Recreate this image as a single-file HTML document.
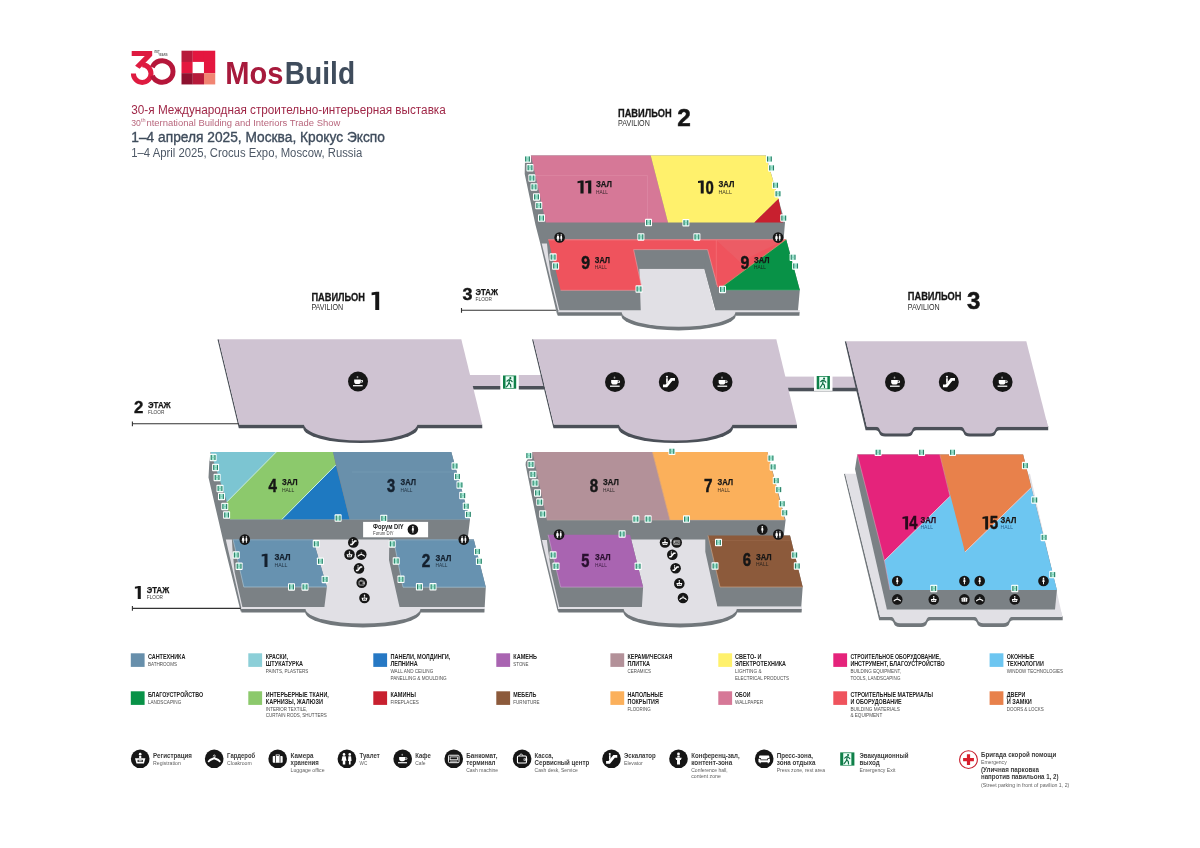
<!DOCTYPE html>
<html><head><meta charset="utf-8"><title>MosBuild 2025 floor plan</title>
<style>
html,body{margin:0;padding:0;background:#fff;}
body{width:1200px;height:848px;overflow:hidden;font-family:"Liberation Sans",sans-serif;}
svg{display:block;font-family:"Liberation Sans",sans-serif;will-change:transform;opacity:0.9999;}
</style></head><body>
<svg width="1200" height="848" viewBox="0 0 1200 848">
<defs>
<g id="ex"><rect x="0" y="0" width="7" height="7.5" rx="0.8" fill="#fff"/><rect x="1" y="1.1" width="5" height="5.3" fill="#a2e4d0"/><rect x="1.1" y="1.3" width="1.1" height="4.9" fill="#2a8068"/><rect x="4.8" y="1.3" width="1.1" height="4.9" fill="#2a8068"/><rect x="2.2" y="3.3" width="2.6" height=".8" fill="#7fd0b8"/></g>


<g id="i-wc"><circle cx="12" cy="12" r="12" fill="#161616"/><g fill="#fff"><circle cx="8.3" cy="6.3" r="1.7"/><path d="M6.2 8.6h4.2l1.1 6h-1.6v4.6H6.7v-4.6H5.1z"/><circle cx="15.7" cy="6.3" r="1.7"/><path d="M14 8.6h3.4l.6 6.2h-1.2v4.4h-2.2v-4.4h-1.2z"/></g></g>
<g id="i-cafe"><circle cx="12" cy="12" r="12" fill="#161616"/><g fill="#fff"><path d="M7.400 9.600h8v2.600c0 1.700-1.400 2.800-3 2.800h-2c-1.600 0-3-1.100-3-2.800z"/><path d="M15.400 10.300h1.100c1 0 1.600.600 1.600 1.400 0 .900-.700 1.500-1.700 1.500h-1v-.900h.900c.500 0 .800-.200.800-.600s-.300-.600-.800-.600h-.900z"/><rect x="6" y="16.300" width="11.600" height="1.500"/><rect x="10.400" y="5.400" width="2" height="2.600" rx=".9" fill="#9a9a9a"/></g></g>
<g id="i-esc"><circle cx="12" cy="12" r="12" fill="#161616"/><g fill="#fff"><path d="M5 18.300v-3.400h3.100l6.300-7.700h5v3.400h-3.100l-6.300 7.700z"/><circle cx="9.800" cy="5.700" r="1.300"/><path d="M8.800 7.500h2v4l-2 2.400z"/></g></g>
<g id="i-reg"><circle cx="12" cy="12" r="12" fill="#161616"/><g fill="#fff"><circle cx="12" cy="6" r="1.700"/><path d="M10.600 8.300h2.800v3h-2.800z"/><path d="M5.300 11.300h13.400l-1.900 6.700H7.200z"/></g><path d="M8.600 13.300h6.800v2.700H8.600z" fill="#161616"/><path d="M10 14h4v1.300h-4z" fill="#fff"/></g>
<g id="i-cloak"><circle cx="12" cy="12" r="12" fill="#161616"/><g fill="none" stroke="#fff" stroke-linecap="round"><path d="M10.800 8.400a1.300 1.300 0 1 1 1.300 1.300v1.400" stroke-width="1"/><path d="M4.900 15.300C6.200 12.900 9.600 12.100 12 11.300C14.400 12.100 17.800 12.900 19.100 15.300" stroke-width="2.500" stroke-linejoin="round"/></g></g>
<g id="i-lug"><circle cx="12" cy="12" r="12" fill="#161616"/><g fill="#fff"><rect x="5.600" y="8.300" width="12.800" height="8.800" rx="1"/><path d="M9.400 8.300V6.400h5.200v1.900h-1.100v-.9h-3v.9z"/></g><rect x="8.500" y="8.300" width="1" height="8.800" fill="#161616"/><rect x="14.500" y="8.300" width="1" height="8.800" fill="#161616"/></g>
<g id="i-atm"><circle cx="12" cy="12" r="12" fill="#161616"/><g fill="none" stroke="#fff"><rect x="5.200" y="7.400" width="13.600" height="9.600" rx="1.200" stroke-width="1.200"/><rect x="7.300" y="9.600" width="9.400" height="3.600" stroke-width="1"/><path d="M7.300 15h9.400" stroke-width="1"/></g></g>
<g id="i-cash"><circle cx="12" cy="12" r="12" fill="#161616"/><g fill="none" stroke="#fff"><rect x="6" y="8.400" width="11.600" height="9" rx="1.300" stroke-width="1.400"/><path d="M8.600 8.200c0-3 4.400-3 4.400 0" stroke-width="1.100"/></g><rect x="14" y="11.600" width="4.600" height="2.700" fill="#fff"/><circle cx="15.500" cy="12.950" r=".7" fill="#161616"/></g>
<g id="i-conf"><circle cx="12" cy="12" r="12" fill="#161616"/><g fill="#fff"><circle cx="12" cy="5.800" r="1.800"/><path d="M10.400 8h3.200v2.400h-3.200z"/><path d="M7.800 10.600h8.400l-1.200 3h-1.100v5.800h-3.800v-5.800H9z"/></g></g>
<g id="i-press"><circle cx="12" cy="12" r="12" fill="#161616"/><g fill="#fff"><path d="M6.800 7.600h10.400c.8 0 1.400.6 1.400 1.400v2h-1.200c-.8 0-1.400.6-1.400 1.400v.6H8v-.6c0-.8-.6-1.400-1.400-1.400H5.400V9c0-.8.600-1.400 1.400-1.400z"/><path d="M4.600 11.800h1.800c.5 0 .8.300.8.800v1.400h9.600v-1.400c0-.5.300-.8.800-.8h1.800v4.800h-1.400v1.300h-1.500v-1.300h-9v1.300H6v-1.300H4.600z"/></g></g>
<g id="i-man"><circle cx="12" cy="12" r="12" fill="#161616"/><g fill="#fff"><circle cx="12" cy="5.800" r="1.900"/><path d="M10.200 8.300h3.600l.8 6h-1.500v5h-2.200v-5H9.400z"/></g></g>
<g id="runman"><rect x="2.300" y=".700" width="7.400" height="10.700" fill="#eafff6"/><g fill="none" stroke="#0b6b42" stroke-width="1.050" stroke-linecap="round" stroke-linejoin="round"><path d="M3.600 5.200L5.200 3.900L7 4.300L8.300 5.600"/><path d="M5.900 4.100L5.400 6.900L6.900 8.200L7.100 10.400"/><path d="M5.400 6.900L4.400 8.700L3.100 10.300"/></g><circle cx="6.700" cy="2.400" r=".95" fill="#0b6b42"/></g>

</defs>
<rect width="1200" height="848" fill="#fff"/>

<g id="logo">
<path d="M131.7 51.1H152.2V55.7L139.6 68.7L135.1 65.8L144.8 56.1H131.7Z" fill="#de1b40"/>
<path d="M133.400 73.600A8.800 8.800 0 1 0 142.200 64.800" fill="none" stroke="#de1b40" stroke-width="5"/>
<path d="M152.300 67.200A10.800 10.800 0 1 1 152.300 75.800" fill="none" stroke="#b5163a" stroke-width="5"/>
<text x="154.20" y="53.20" font-size="2.60" font-weight="bold" fill="#666" textLength="5.50" lengthAdjust="spacingAndGlyphs" >ЛЕТ</text>
<text x="158.20" y="55.90" font-size="2.60" font-weight="bold" fill="#666" textLength="9.50" lengthAdjust="spacingAndGlyphs" >YEARS</text>
<rect x="181.50" y="50.70" width="11.28" height="11.28" fill="#b71a3b"/>
<rect x="192.73" y="50.70" width="11.28" height="11.28" fill="#e4173f"/>
<rect x="203.96" y="50.70" width="11.28" height="11.28" fill="#e4173f"/>
<rect x="181.50" y="61.93" width="11.28" height="11.28" fill="#e4173f"/>
<rect x="192.73" y="61.93" width="11.28" height="11.28" fill="#ffffff"/>
<rect x="203.96" y="61.93" width="11.28" height="11.28" fill="#e4173f"/>
<rect x="181.50" y="73.16" width="11.28" height="11.28" fill="#8d112f"/>
<rect x="192.73" y="73.16" width="11.28" height="11.28" fill="#b71a3b"/>
<rect x="203.96" y="73.16" width="11.28" height="11.28" fill="#f18573"/>
<text x="225.30" y="83.80" font-size="31.00" font-weight="bold" fill="#a71a3c" textLength="58.20" lengthAdjust="spacingAndGlyphs" >Mos</text>
<text x="284.80" y="83.80" font-size="31.00" font-weight="bold" fill="#3f4c5c" textLength="70.30" lengthAdjust="spacingAndGlyphs" >Build</text>
</g>
<text x="131.30" y="114.30" font-size="12.00" fill="#a02848" textLength="314.50" lengthAdjust="spacingAndGlyphs" >30-я Международная строительно-интерьерная выставка</text>
<text x="131.30" y="125.60" font-size="9.70" fill="#b8667c" textLength="9.60" lengthAdjust="spacingAndGlyphs" >30</text>
<text x="141.00" y="122.30" font-size="5.00" fill="#b8667c" textLength="4.60" lengthAdjust="spacingAndGlyphs" >th</text>
<text x="146.40" y="125.60" font-size="9.70" fill="#b8667c" textLength="194.00" lengthAdjust="spacingAndGlyphs" >nternational Building and Interiors Trade Show</text>
<text x="131.30" y="141.90" font-size="14.00" fill="#3f4c5c" textLength="253.60" lengthAdjust="spacingAndGlyphs" stroke="#3f4c5c" stroke-width="0.35">1–4 апреля 2025, Москва, Крокус Экспо</text>
<text x="131.30" y="156.60" font-size="12.00" fill="#4d5866" textLength="231.00" lengthAdjust="spacingAndGlyphs" >1–4 April 2025, Crocus Expo, Moscow, Russia</text>
<g id="p2f3">
<polygon points="556.90,311.90 799.60,311.90 799.40,315.70 557.80,315.70" fill="#71777b" />
<path d="M621.40 315.40 A57.15 15.00 0 0 0 735.70 315.40 Z" fill="#71777b"/>
<polygon points="556.70,310.00 799.80,310.00 799.60,312.20 557.10,312.20" fill="#e1e0e5" />
<path d="M621.70 311.90 A56.85 14.90 0 0 0 735.40 311.90 Z" fill="#e1e0e5"/>
<polygon points="639.40,268.75 704.40,268.75 715.60,314.00 640.60,314.00" fill="#e1e0e5" />
<polygon points="525.00,160.00 531.00,155.60 766.00,155.60 785.00,222.50 783.60,239.40 786.20,239.40 799.80,290.00 798.00,310.30 715.40,310.30 704.40,268.75 639.40,268.75 640.80,310.30 558.60,310.30 557.30,315.40 540.20,243.30 535.50,225.00 524.70,174.00" fill="#7b8185" />
<polygon points="541.70,243.50 547.00,243.50 548.00,254.00 550.60,274.00 559.40,310.30 558.20,310.60" fill="#e1e0e5" />
<polygon points="635.20,250.00 706.60,250.00 704.40,268.75 639.40,268.75" fill="#7b8185" />
<polygon points="706.40,250.00 708.40,250.00 718.00,290.00 715.60,310.30 704.40,268.75" fill="#7b8185" />
<polygon points="531.00,155.60 650.70,155.60 668.00,222.50 545.80,222.50" fill="#d67897" />
<path d="M535 175.600H647.500V222" fill="none" stroke="#e9a0b8" stroke-width=".5" opacity=".6"/>
<polygon points="650.70,155.60 765.60,155.60 778.60,198.80 754.40,222.50 668.00,222.50" fill="#fff16c" />
<polygon points="778.60,198.80 783.00,222.50 754.40,222.50" fill="#c8202f" />
<polygon points="548.20,239.40 786.20,239.40 720.50,288.00 717.60,287.00 707.60,249.60 633.60,249.60 642.30,290.30 560.60,290.30" fill="#ef535d" />
<path d="M548.2 239.800H786" stroke="#f58d93" stroke-width=".8" fill="none"/>
<path d="M642.300 290.300L633.600 249.600H707.600L717.600 287" stroke="#f79ca2" stroke-width=".6" fill="none"/>
<path d="M716.300 240V285" stroke="#f7868c" stroke-width=".6" fill="none" opacity=".7"/>
<polygon points="716.30,240.20 784.00,240.20 740.00,262.00" fill="#e9646c" opacity=".55"/>
<polygon points="786.20,239.40 799.80,290.00 722.00,290.00 720.50,288.00" fill="#089247" />
<path d="M786.2 239.400L720.500 288" stroke="#c9a46a" stroke-width=".7" fill="none"/>
<path d="M560.6 290.300H642.300" stroke="#f59aa0" stroke-width=".6" fill="none"/>
<path d="M722 290H799.800" stroke="#3fb06e" stroke-width=".6" fill="none"/>
<use href="#ex" x="524.00" y="155.25"/>
<use href="#ex" x="526.50" y="164.00"/>
<use href="#ex" x="528.40" y="174.35"/>
<use href="#ex" x="530.50" y="183.15"/>
<use href="#ex" x="533.00" y="193.15"/>
<use href="#ex" x="535.25" y="201.85"/>
<use href="#ex" x="538.00" y="214.35"/>
<use href="#ex" x="645.00" y="218.75"/>
<use href="#ex" x="637.40" y="233.15"/>
<use href="#ex" x="765.90" y="155.25"/>
<use href="#ex" x="768.10" y="164.15"/>
<use href="#ex" x="772.10" y="181.50"/>
<use href="#ex" x="774.50" y="190.00"/>
<use href="#ex" x="780.25" y="214.35"/>
<use href="#ex" x="682.40" y="219.00"/>
<use href="#ex" x="693.40" y="233.15"/>
<use href="#ex" x="549.60" y="253.35"/>
<use href="#ex" x="552.10" y="262.25"/>
<use href="#ex" x="635.50" y="285.25"/>
<use href="#ex" x="789.60" y="253.50"/>
<use href="#ex" x="792.10" y="262.25"/>
<use href="#ex" x="719.00" y="285.65"/>
<use href="#i-wc" transform="translate(554.30 232.20) scale(0.4417)"/>
<use href="#i-wc" transform="translate(772.80 232.30) scale(0.4417)"/>
<polygon points="583.60,180.60 583.60,193.50 580.43,193.50 580.43,182.73 577.50,183.18 577.50,181.18 581.28,180.60" fill="#161616" />
<polygon points="591.30,180.60 591.30,193.50 588.13,193.50 588.13,182.73 585.20,183.18 585.20,181.18 588.98,180.60" fill="#161616" />
<text x="596.00" y="186.80" font-size="8.60" font-weight="bold" fill="#161616" textLength="15.90" lengthAdjust="spacingAndGlyphs" stroke="#161616" stroke-width="0.25">ЗАЛ</text>
<text x="596.00" y="193.50" font-size="5.50" fill="#161616" textLength="12.00" lengthAdjust="spacingAndGlyphs" opacity="0.85">HALL</text>
<polygon points="703.70,180.50 703.70,193.50 700.74,193.50 700.74,182.65 698.00,183.10 698.00,181.09 701.53,180.50" fill="#161616" />
<text x="705.50" y="193.50" font-size="18.00" font-weight="bold" fill="#161616" textLength="8.25" lengthAdjust="spacingAndGlyphs" stroke="#161616" stroke-width="0.5">0</text>
<text x="718.50" y="186.80" font-size="8.60" font-weight="bold" fill="#161616" textLength="15.90" lengthAdjust="spacingAndGlyphs" stroke="#161616" stroke-width="0.25">ЗАЛ</text>
<text x="718.50" y="193.50" font-size="5.50" fill="#161616" textLength="13.40" lengthAdjust="spacingAndGlyphs" opacity="0.85">HALL</text>
<text x="581.25" y="269.40" font-size="18.00" font-weight="bold" fill="#161616" textLength="8.75" lengthAdjust="spacingAndGlyphs" stroke="#161616" stroke-width="0.5">9</text>
<text x="594.75" y="263.00" font-size="8.60" font-weight="bold" fill="#161616" textLength="15.25" lengthAdjust="spacingAndGlyphs" stroke="#161616" stroke-width="0.25">ЗАЛ</text>
<text x="594.75" y="269.40" font-size="5.50" fill="#161616" textLength="12.15" lengthAdjust="spacingAndGlyphs" opacity="0.85">HALL</text>
<text x="740.60" y="269.40" font-size="18.00" font-weight="bold" fill="#161616" textLength="8.80" lengthAdjust="spacingAndGlyphs" stroke="#161616" stroke-width="0.5">9</text>
<text x="754.00" y="263.00" font-size="8.60" font-weight="bold" fill="#161616" textLength="15.40" lengthAdjust="spacingAndGlyphs" stroke="#161616" stroke-width="0.25">ЗАЛ</text>
<text x="754.00" y="269.40" font-size="5.50" fill="#161616" textLength="12.00" lengthAdjust="spacingAndGlyphs" opacity="0.85">HALL</text>
</g>
<g id="f2">
<rect x="468" y="385.500" width="76" height="4" fill="#4b5058"/>
<rect x="468" y="375" width="76" height="11" fill="#cfc3d2"/>
<rect x="783" y="387.300" width="77" height="4" fill="#4b5058"/>
<rect x="783" y="376.600" width="77" height="11" fill="#cfc3d2"/>
<polygon points="217.50,339.60 218.70,339.30 239.20,424.60 482.20,424.60 482.30,428.20 238.80,428.20" fill="#4b5058" />
<path d="M303.30 427.90 A57.35 15.20 0 0 0 418.00 427.90 Z" fill="#4b5058"/>
<polygon points="218.70,339.30 461.30,339.30 482.20,424.60 239.20,424.60" fill="#cfc3d2" />
<path d="M303.70 423.40 A56.95 17.10 0 0 0 417.60 423.40 Z" fill="#cfc3d2"/>
<polygon points="532.10,339.60 533.30,339.30 553.90,424.60 796.90,424.60 797.00,428.20 553.50,428.20" fill="#4b5058" />
<path d="M618.30 427.90 A57.35 15.20 0 0 0 733.00 427.90 Z" fill="#4b5058"/>
<polygon points="533.30,339.30 776.30,339.30 796.90,424.60 553.90,424.60" fill="#cfc3d2" />
<path d="M618.70 423.40 A56.95 17.10 0 0 0 732.60 423.40 Z" fill="#cfc3d2"/>
<path d="M844.800 341.500 L865.600 430.200 H875.5 Q878.3 430.2 879.3 433.2 Q880.3 436.5 885.0 436.5 H907.0 Q911.7 436.5 912.7 433.2 Q913.7 430.2 916.5 430.2 H960.0 Q962.8 430.2 963.8 433.2 Q964.8 436.5 969.5 436.5 H990.0 Q994.7 436.5 995.7 433.2 Q996.7 430.2 999.5 430.2 H1048.200 V426 H866.900 L846.300 341.200 Z" fill="#4b5058"/>
<path d="M846.300 341.200 H1026.300 L1048 426.800 H866.900 Z" fill="#cfc3d2"/>
<path d="M866.900 426.700 H876.0 Q878.8 426.7 879.8 429.7 Q880.8 433.4 885.5 433.4 H906.5 Q911.2 433.4 912.2 429.7 Q913.2 426.7 916.0 426.7 H960.5 Q963.3 426.7 964.3 429.7 Q965.3 433.4 970.0 433.4 H989.5 Q994.2 433.4 995.2 429.7 Q996.2 426.7 999.0 426.7 H1048 L1046.300 420 H865.300 Z" fill="#cfc3d2"/>
<rect x="500.30" y="373.20" width="18.50" height="17.20" fill="#fff"/>
<rect x="503.00" y="375.50" width="13.20" height="13.20" fill="#0f8049"/>
<g transform="translate(503.00 375.50) scale(1.100)"><use href="#runman"/></g>
<rect x="814.00" y="373.70" width="18.50" height="17.20" fill="#fff"/>
<rect x="816.70" y="376.00" width="13.20" height="13.20" fill="#0f8049"/>
<g transform="translate(816.70 376.00) scale(1.100)"><use href="#runman"/></g>
<use href="#i-cafe" transform="translate(348.00 371.50) scale(0.8333)"/>
<use href="#i-cafe" transform="translate(605.00 372.00) scale(0.8333)"/>
<use href="#i-esc" transform="translate(658.80 372.00) scale(0.8333)"/>
<use href="#i-cafe" transform="translate(712.50 372.00) scale(0.8333)"/>
<use href="#i-cafe" transform="translate(885.00 372.00) scale(0.8333)"/>
<use href="#i-esc" transform="translate(938.80 372.00) scale(0.8333)"/>
<use href="#i-cafe" transform="translate(992.60 372.00) scale(0.8333)"/>
</g>
<g id="p1f1">
<polygon points="240.60,608.70 484.60,608.70 484.40,612.40 241.50,612.40" fill="#71777b" />
<path d="M305.20 612.10 A57.75 15.30 0 0 0 420.70 612.10 Z" fill="#71777b"/>
<polygon points="240.40,606.60 484.80,606.60 484.60,609.00 240.80,609.00" fill="#e1e0e5" />
<path d="M305.50 608.70 A57.45 14.90 0 0 0 420.40 608.70 Z" fill="#e1e0e5"/>
<polygon points="313.00,539.00 393.60,539.00 399.70,611.00 324.20,611.00" fill="#e1e0e5" />
<polygon points="209.40,461.00 210.60,452.00 451.30,452.00 470.00,519.40 467.60,539.50 473.80,539.50 485.80,587.20 484.70,606.90 399.50,606.90 389.00,560.00 389.30,539.50 313.10,539.50 326.90,587.00 324.40,606.90 241.20,606.90 240.80,612.00 224.40,546.00 208.50,477.50" fill="#7b8185" />
<polygon points="225.80,539.60 231.90,539.60 232.60,551.00 234.60,572.00 242.40,606.90 241.20,607.20" fill="#e1e0e5" />
<polygon points="210.60,452.00 276.30,452.00 226.90,501.90" fill="#7cc5d2" />
<polygon points="276.30,452.00 333.10,452.00 335.80,465.00 281.90,519.40 230.00,519.40 226.90,501.90" fill="#8cc96c" />
<polygon points="335.80,465.00 349.60,519.40 281.90,519.40" fill="#1e79c1" />
<path d="M276.300 452L226.900 501.900M335.800 465L281.900 519.400" stroke="#c9f2e4" stroke-width="1" fill="none"/>
<polygon points="333.10,452.00 451.30,452.00 469.60,519.40 349.60,519.40" fill="#6990ab" />
<path d="M352 472H456" stroke="#86a7bd" stroke-width=".5" fill="none" opacity=".7"/>
<path d="M230 519.600H469.600" stroke="#8fa9b8" stroke-width=".6" fill="none" opacity=".7"/>
<polygon points="233.10,539.50 313.10,539.50 326.90,587.00 243.80,587.00" fill="#6792b0" />
<path d="M233.100 539.500L243.800 587H326.900" stroke="#a9c3d3" stroke-width=".7" fill="none"/>
<path d="M233.100 539.900H313.100" stroke="#8aa7bb" stroke-width=".9" fill="none"/>
<polygon points="393.50,539.50 473.80,539.50 485.80,587.20 403.00,587.20" fill="#6792b0" />
<path d="M393.500 539.500L403 587.200H485.800" stroke="#a9c3d3" stroke-width=".7" fill="none"/>
<path d="M393.500 539.900H473.800" stroke="#8aa7bb" stroke-width=".9" fill="none"/>
<rect x="363.100" y="521.900" width="65" height="15.400" fill="#fff"/>
<text x="373.10" y="528.60" font-size="6.40" font-weight="bold" fill="#222" textLength="30.60" lengthAdjust="spacingAndGlyphs" >Форум DIY</text>
<text x="373.10" y="535.00" font-size="4.90" fill="#444" textLength="20.60" lengthAdjust="spacingAndGlyphs" >Forum DIY</text>
<use href="#i-man" transform="translate(407.60 524.20) scale(0.4417)"/>
<use href="#ex" x="209.60" y="453.75"/>
<use href="#ex" x="212.10" y="463.75"/>
<use href="#ex" x="213.60" y="473.75"/>
<use href="#ex" x="216.50" y="484.75"/>
<use href="#ex" x="218.00" y="492.75"/>
<use href="#ex" x="221.25" y="502.75"/>
<use href="#ex" x="223.10" y="511.25"/>
<use href="#ex" x="334.60" y="514.35"/>
<use href="#ex" x="312.75" y="540.05"/>
<use href="#ex" x="451.50" y="462.25"/>
<use href="#ex" x="454.00" y="472.75"/>
<use href="#ex" x="456.50" y="481.25"/>
<use href="#ex" x="459.25" y="491.85"/>
<use href="#ex" x="462.75" y="502.50"/>
<use href="#ex" x="464.90" y="510.65"/>
<use href="#ex" x="380.25" y="514.65"/>
<use href="#ex" x="388.70" y="540.15"/>
<use href="#ex" x="232.75" y="551.25"/>
<use href="#ex" x="235.60" y="562.50"/>
<use href="#ex" x="316.90" y="557.50"/>
<use href="#ex" x="321.60" y="575.65"/>
<use href="#ex" x="288.00" y="583.15"/>
<use href="#ex" x="301.50" y="583.15"/>
<use href="#ex" x="392.70" y="557.25"/>
<use href="#ex" x="397.50" y="575.55"/>
<use href="#ex" x="415.90" y="583.05"/>
<use href="#ex" x="429.50" y="583.05"/>
<use href="#ex" x="474.00" y="547.75"/>
<use href="#ex" x="475.90" y="557.55"/>
<use href="#i-wc" transform="translate(239.45 534.30) scale(0.4417)"/>
<use href="#i-wc" transform="translate(458.45 534.30) scale(0.4417)"/>
<use href="#i-esc" transform="translate(348.00 537.10) scale(0.4417)"/>
<use href="#i-reg" transform="translate(344.20 549.30) scale(0.4417)"/>
<use href="#i-cloak" transform="translate(355.95 549.30) scale(0.4417)"/>
<use href="#i-esc" transform="translate(353.70 563.10) scale(0.4417)"/>
<use href="#i-cash" transform="translate(356.40 577.40) scale(0.4417)"/>
<use href="#i-reg" transform="translate(359.20 592.70) scale(0.4417)"/>
<text x="268.50" y="491.60" font-size="18.00" font-weight="bold" fill="#161616" textLength="8.40" lengthAdjust="spacingAndGlyphs" stroke="#161616" stroke-width="0.5">4</text>
<text x="281.90" y="485.00" font-size="8.60" font-weight="bold" fill="#161616" textLength="15.60" lengthAdjust="spacingAndGlyphs" stroke="#161616" stroke-width="0.25">ЗАЛ</text>
<text x="281.90" y="491.60" font-size="5.50" fill="#161616" textLength="12.50" lengthAdjust="spacingAndGlyphs" opacity="0.85">HALL</text>
<text x="386.90" y="491.60" font-size="18.00" font-weight="bold" fill="#14202e" textLength="8.10" lengthAdjust="spacingAndGlyphs" stroke="#14202e" stroke-width="0.5">3</text>
<text x="400.60" y="485.00" font-size="8.60" font-weight="bold" fill="#14202e" textLength="15.40" lengthAdjust="spacingAndGlyphs" stroke="#14202e" stroke-width="0.25">ЗАЛ</text>
<text x="400.60" y="491.60" font-size="5.50" fill="#14202e" textLength="11.90" lengthAdjust="spacingAndGlyphs" opacity="0.85">HALL</text>
<polygon points="267.50,553.80 267.50,566.90 264.48,566.90 264.48,555.96 261.70,556.42 261.70,554.39 265.30,553.80" fill="#14202e" />
<text x="274.40" y="560.40" font-size="8.60" font-weight="bold" fill="#14202e" textLength="16.20" lengthAdjust="spacingAndGlyphs" stroke="#14202e" stroke-width="0.25">ЗАЛ</text>
<text x="274.40" y="566.90" font-size="5.50" fill="#14202e" textLength="13.10" lengthAdjust="spacingAndGlyphs" opacity="0.85">HALL</text>
<text x="421.70" y="567.00" font-size="18.00" font-weight="bold" fill="#14202e" textLength="8.55" lengthAdjust="spacingAndGlyphs" stroke="#14202e" stroke-width="0.5">2</text>
<text x="435.50" y="560.50" font-size="8.60" font-weight="bold" fill="#14202e" textLength="15.75" lengthAdjust="spacingAndGlyphs" stroke="#14202e" stroke-width="0.25">ЗАЛ</text>
<text x="435.50" y="567.00" font-size="5.50" fill="#14202e" textLength="12.00" lengthAdjust="spacingAndGlyphs" opacity="0.85">HALL</text>
</g>
<g id="p2f1">
<polygon points="557.60,608.70 801.80,608.70 801.60,612.40 558.50,612.40" fill="#71777b" />
<path d="M623.40 612.10 A56.85 15.30 0 0 0 737.10 612.10 Z" fill="#71777b"/>
<polygon points="557.40,606.60 802.00,606.60 801.80,609.00 557.80,609.00" fill="#e1e0e5" />
<path d="M623.70 608.70 A56.55 14.90 0 0 0 736.80 608.70 Z" fill="#e1e0e5"/>
<polygon points="630.00,539.00 708.60,539.00 717.50,611.00 641.70,611.00" fill="#e1e0e5" />
<polygon points="525.80,462.00 532.50,452.00 767.50,452.00 785.60,520.00 783.80,535.50 790.00,535.50 802.70,587.00 801.30,606.60 717.30,606.60 705.30,551.70 705.30,539.50 631.20,539.50 643.10,587.10 641.90,606.90 558.10,606.90 557.80,612.00 541.90,546.00 525.60,465.00" fill="#7b8185" />
<polygon points="541.90,540.00 546.90,540.00 548.20,551.00 551.20,572.00 559.30,606.90 558.10,607.20" fill="#e1e0e5" />
<polygon points="532.50,452.00 652.50,452.00 670.00,520.00 546.90,520.00" fill="#b39199" />
<polygon points="652.50,452.00 767.50,452.00 784.80,520.00 670.00,520.00" fill="#fbb05b" />
<path d="M652.500 452L670 520" stroke="#e3a878" stroke-width=".8" fill="none"/>
<path d="M546.900 520.200H784.800" stroke="#c5b0a8" stroke-width=".6" fill="none" opacity=".7"/>
<polygon points="548.10,534.80 630.00,534.80 643.10,587.10 560.60,587.10" fill="#a964b1" />
<path d="M548.100 534.800L560.600 587.100H643.100" stroke="#c79ccd" stroke-width=".7" fill="none"/>
<polygon points="708.00,535.50 790.00,535.50 802.70,587.00 720.00,587.00" fill="#8c5a3b" />
<path d="M708 535.500L720 587H802.700" stroke="#c9a184" stroke-width=".7" fill="none"/>
<path d="M712 540.500H790" stroke="#a37352" stroke-width=".5" fill="none" opacity=".7"/>
<use href="#ex" x="525.25" y="451.85"/>
<use href="#ex" x="527.50" y="460.65"/>
<use href="#ex" x="529.40" y="470.65"/>
<use href="#ex" x="531.50" y="479.35"/>
<use href="#ex" x="534.00" y="489.15"/>
<use href="#ex" x="536.25" y="498.35"/>
<use href="#ex" x="539.25" y="510.25"/>
<use href="#ex" x="632.40" y="515.35"/>
<use href="#ex" x="644.60" y="515.35"/>
<use href="#ex" x="618.60" y="530.25"/>
<use href="#ex" x="668.40" y="447.55"/>
<use href="#ex" x="767.50" y="454.35"/>
<use href="#ex" x="769.60" y="463.15"/>
<use href="#ex" x="772.75" y="476.85"/>
<use href="#ex" x="775.25" y="485.85"/>
<use href="#ex" x="778.75" y="500.00"/>
<use href="#ex" x="781.25" y="509.00"/>
<use href="#ex" x="683.00" y="515.35"/>
<use href="#ex" x="715.00" y="538.75"/>
<use href="#ex" x="549.60" y="551.25"/>
<use href="#ex" x="552.50" y="562.50"/>
<use href="#ex" x="634.60" y="562.50"/>
<use href="#ex" x="711.50" y="562.25"/>
<use href="#ex" x="791.20" y="551.25"/>
<use href="#ex" x="793.80" y="562.25"/>
<use href="#i-wc" transform="translate(553.80 529.30) scale(0.4417)"/>
<use href="#i-wc" transform="translate(773.00 529.20) scale(0.4417)"/>
<use href="#i-man" transform="translate(757.00 524.20) scale(0.4417)"/>
<use href="#i-reg" transform="translate(659.70 537.10) scale(0.4417)"/>
<use href="#i-atm" transform="translate(671.40 537.10) scale(0.4417)"/>
<use href="#i-esc" transform="translate(667.00 549.40) scale(0.4417)"/>
<use href="#i-esc" transform="translate(670.30 563.00) scale(0.4417)"/>
<use href="#i-reg" transform="translate(674.00 578.10) scale(0.4417)"/>
<use href="#i-cloak" transform="translate(677.70 592.70) scale(0.4417)"/>
<text x="589.75" y="491.60" font-size="18.00" font-weight="bold" fill="#161616" textLength="8.35" lengthAdjust="spacingAndGlyphs" stroke="#161616" stroke-width="0.5">8</text>
<text x="603.10" y="485.00" font-size="8.60" font-weight="bold" fill="#161616" textLength="15.65" lengthAdjust="spacingAndGlyphs" stroke="#161616" stroke-width="0.25">ЗАЛ</text>
<text x="603.10" y="491.60" font-size="5.50" fill="#161616" textLength="11.90" lengthAdjust="spacingAndGlyphs" opacity="0.85">HALL</text>
<text x="704.00" y="491.60" font-size="18.00" font-weight="bold" fill="#161616" textLength="8.50" lengthAdjust="spacingAndGlyphs" stroke="#161616" stroke-width="0.5">7</text>
<text x="717.50" y="485.00" font-size="8.60" font-weight="bold" fill="#161616" textLength="15.60" lengthAdjust="spacingAndGlyphs" stroke="#161616" stroke-width="0.25">ЗАЛ</text>
<text x="717.50" y="491.60" font-size="5.50" fill="#161616" textLength="12.50" lengthAdjust="spacingAndGlyphs" opacity="0.85">HALL</text>
<text x="581.25" y="566.60" font-size="18.00" font-weight="bold" fill="#2a1030" textLength="8.15" lengthAdjust="spacingAndGlyphs" stroke="#2a1030" stroke-width="0.5">5</text>
<text x="595.00" y="560.40" font-size="8.60" font-weight="bold" fill="#2a1030" textLength="15.60" lengthAdjust="spacingAndGlyphs" stroke="#2a1030" stroke-width="0.25">ЗАЛ</text>
<text x="595.00" y="566.60" font-size="5.50" fill="#2a1030" textLength="11.90" lengthAdjust="spacingAndGlyphs" opacity="0.85">HALL</text>
<text x="742.70" y="566.30" font-size="18.00" font-weight="bold" fill="#161616" textLength="8.30" lengthAdjust="spacingAndGlyphs" stroke="#161616" stroke-width="0.5">6</text>
<text x="756.00" y="560.30" font-size="8.60" font-weight="bold" fill="#161616" textLength="15.60" lengthAdjust="spacingAndGlyphs" stroke="#161616" stroke-width="0.25">ЗАЛ</text>
<text x="756.00" y="566.30" font-size="5.50" fill="#161616" textLength="12.40" lengthAdjust="spacingAndGlyphs" opacity="0.85">HALL</text>
</g>
<g id="p3f1">
<path d="M844 474 L879.200 620.200 H890.0 Q892.8 620.2 893.8 623.2 Q894.8 627.0 899.5 627.0 H921.2 Q925.9 627.0 926.9 623.2 Q927.9 620.2 930.7 620.2 H973.3 Q976.1 620.2 977.1 623.2 Q978.1 627.0 982.8 627.0 H1003.7 Q1008.4 627.0 1009.4 623.2 Q1010.4 620.2 1013.2 620.2 H1062.700 V616 H880.200 L845.200 473.800 Z" fill="#71777b"/>
<path d="M845.200 473.800 H1030 L1062.500 617 H880.200 Z" fill="#e1e0e5"/>
<path d="M880.200 616.800 H890.5 Q893.3 616.8 894.3 619.8 Q895.3 623.2 900.0 623.2 H920.7 Q925.4 623.2 926.4 619.8 Q927.4 616.8 930.2 616.8 H973.8 Q976.6 616.8 977.6 619.8 Q978.6 623.2 983.3 623.2 H1003.2 Q1007.9 623.2 1008.9 619.8 Q1009.9 616.8 1012.7 616.8 H1062.500 L1061.300 612 H879 Z" fill="#e1e0e5"/>
<polygon points="857.30,454.40 1023.10,454.40 1056.90,590.00 1055.00,609.40 886.90,609.40 855.00,469.00" fill="#7b8185" />
<polygon points="884.40,560.60 948.00,490.00 955.00,490.00 965.00,552.00 1028.00,480.00 1031.30,487.50 1056.90,590.00 890.00,590.00" fill="#6dc6f1" />
<polygon points="857.30,454.40 939.80,454.40 950.00,496.30 884.40,560.60" fill="#e5237b" />
<polygon points="939.80,454.40 1023.10,454.40 1031.30,487.50 965.00,552.00" fill="#e8814b" />
<path d="M950 496.300L884.400 560.600M1031.300 487.500L965 552" stroke="#f4d6dc" stroke-width=".8" fill="none"/>
<path d="M857.300 454.400L884.400 560.600L890 590" stroke="#f6a3c4" stroke-width=".6" fill="none" opacity=".8"/>
<path d="M939.800 454.400L950 496.300" stroke="#ef8e8e" stroke-width=".6" fill="none"/>
<use href="#ex" x="874.60" y="448.55"/>
<use href="#ex" x="918.10" y="448.55"/>
<use href="#ex" x="949.00" y="448.55"/>
<use href="#ex" x="1021.90" y="461.85"/>
<use href="#ex" x="1031.25" y="496.25"/>
<use href="#ex" x="1040.60" y="533.65"/>
<use href="#ex" x="1049.25" y="570.85"/>
<use href="#ex" x="930.25" y="584.75"/>
<use href="#ex" x="1011.25" y="584.75"/>
<use href="#i-man" transform="translate(891.95 575.70) scale(0.4417)"/>
<use href="#i-man" transform="translate(959.10 575.70) scale(0.4417)"/>
<use href="#i-man" transform="translate(974.40 575.70) scale(0.4417)"/>
<use href="#i-man" transform="translate(1038.20 575.70) scale(0.4417)"/>
<use href="#i-cloak" transform="translate(891.95 594.10) scale(0.4417)"/>
<use href="#i-reg" transform="translate(928.45 594.10) scale(0.4417)"/>
<use href="#i-lug" transform="translate(959.10 594.10) scale(0.4417)"/>
<use href="#i-cloak" transform="translate(974.40 594.10) scale(0.4417)"/>
<use href="#i-reg" transform="translate(1009.45 594.10) scale(0.4417)"/>
<polygon points="908.10,516.30 908.10,529.40 905.19,529.40 905.19,518.46 902.50,518.92 902.50,516.89 905.97,516.30" fill="#2a0a1c" />
<text x="909.30" y="529.40" font-size="18.00" font-weight="bold" fill="#2a0a1c" textLength="8.20" lengthAdjust="spacingAndGlyphs" stroke="#2a0a1c" stroke-width="0.5">4</text>
<text x="920.40" y="523.10" font-size="8.60" font-weight="bold" fill="#2a0a1c" textLength="15.60" lengthAdjust="spacingAndGlyphs" stroke="#2a0a1c" stroke-width="0.25">ЗАЛ</text>
<text x="920.40" y="529.40" font-size="5.50" fill="#1c4a78" textLength="12.70" lengthAdjust="spacingAndGlyphs" opacity="0.85">HALL</text>
<polygon points="988.10,516.30 988.10,529.40 985.19,529.40 985.19,518.46 982.50,518.92 982.50,516.89 985.97,516.30" fill="#1a1410" />
<text x="989.70" y="529.40" font-size="18.00" font-weight="bold" fill="#1a1410" textLength="8.40" lengthAdjust="spacingAndGlyphs" stroke="#1a1410" stroke-width="0.5">5</text>
<text x="1000.60" y="523.10" font-size="8.60" font-weight="bold" fill="#1a1410" textLength="15.65" lengthAdjust="spacingAndGlyphs" stroke="#1a1410" stroke-width="0.25">ЗАЛ</text>
<text x="1000.60" y="529.40" font-size="5.50" fill="#1c4a78" textLength="12.50" lengthAdjust="spacingAndGlyphs" opacity="0.85">HALL</text>
</g>
<g id="labels">
<text x="618.00" y="117.00" font-size="11.60" font-weight="bold" fill="#161616" textLength="53.60" lengthAdjust="spacingAndGlyphs" stroke="#161616" stroke-width="0.3">ПАВИЛЬОН</text>
<text x="618.00" y="126.30" font-size="8.40" fill="#2e2e2e" textLength="31.80" lengthAdjust="spacingAndGlyphs" >PAVILION</text>
<text x="677.20" y="126.30" font-size="24.60" font-weight="bold" fill="#161616" textLength="13.60" lengthAdjust="spacingAndGlyphs" stroke="#161616" stroke-width="0.5">2</text>
<text x="311.40" y="300.50" font-size="11.60" font-weight="bold" fill="#161616" textLength="53.60" lengthAdjust="spacingAndGlyphs" stroke="#161616" stroke-width="0.3">ПАВИЛЬОН</text>
<text x="311.40" y="309.90" font-size="8.40" fill="#2e2e2e" textLength="31.80" lengthAdjust="spacingAndGlyphs" >PAVILION</text>
<polygon points="379.20,291.70 379.20,309.90 375.25,309.90 375.25,294.70 371.60,295.34 371.60,292.52 376.31,291.70" fill="#161616" />
<text x="907.80" y="300.30" font-size="11.60" font-weight="bold" fill="#161616" textLength="53.60" lengthAdjust="spacingAndGlyphs" stroke="#161616" stroke-width="0.3">ПАВИЛЬОН</text>
<text x="907.80" y="309.60" font-size="8.40" fill="#2e2e2e" textLength="31.80" lengthAdjust="spacingAndGlyphs" >PAVILION</text>
<text x="966.90" y="308.90" font-size="24.60" font-weight="bold" fill="#161616" textLength="13.40" lengthAdjust="spacingAndGlyphs" stroke="#161616" stroke-width="0.5">3</text>
<text x="462.60" y="300.20" font-size="17.20" font-weight="bold" fill="#161616" textLength="10.00" lengthAdjust="spacingAndGlyphs" stroke="#161616" stroke-width="0.4">3</text>
<text x="475.60" y="294.80" font-size="8.80" font-weight="bold" fill="#161616" textLength="22.40" lengthAdjust="spacingAndGlyphs" stroke="#161616" stroke-width="0.25">ЭТАЖ</text>
<text x="475.60" y="300.70" font-size="5.60" fill="#3a3a3a" textLength="16.40" lengthAdjust="spacingAndGlyphs" >FLOOR</text>
<path d="M461.50 310.30H556.00M461.50 307.90V312.70" stroke="#333" stroke-width="1.1" fill="none"/>
<text x="134.00" y="413.30" font-size="17.20" font-weight="bold" fill="#161616" textLength="9.35" lengthAdjust="spacingAndGlyphs" stroke="#161616" stroke-width="0.4">2</text>
<text x="148.00" y="407.50" font-size="8.80" font-weight="bold" fill="#161616" textLength="22.75" lengthAdjust="spacingAndGlyphs" stroke="#161616" stroke-width="0.25">ЭТАЖ</text>
<text x="148.00" y="413.70" font-size="5.60" fill="#3a3a3a" textLength="16.30" lengthAdjust="spacingAndGlyphs" >FLOOR</text>
<path d="M132.40 423.80H238.60M132.40 421.40V426.20" stroke="#333" stroke-width="1.1" fill="none"/>
<polygon points="140.80,586.10 140.80,598.90 137.73,598.90 137.73,588.21 134.90,588.66 134.90,586.68 138.56,586.10" fill="#161616" />
<text x="146.80" y="592.50" font-size="8.80" font-weight="bold" fill="#161616" textLength="22.40" lengthAdjust="spacingAndGlyphs" stroke="#161616" stroke-width="0.25">ЭТАЖ</text>
<text x="146.80" y="598.90" font-size="5.60" fill="#3a3a3a" textLength="16.20" lengthAdjust="spacingAndGlyphs" >FLOOR</text>
<path d="M132.40 608.40H240.60M132.40 606.00V610.80" stroke="#333" stroke-width="1.1" fill="none"/>
</g>
<g id="legend">
<rect x="130.80" y="653.30" width="13.8" height="13.6" fill="#678fab"/>
<text x="147.90" y="659.20" font-size="7.30" font-weight="bold" fill="#222" textLength="37.50" lengthAdjust="spacingAndGlyphs" >САНТЕХНИКА</text>
<text x="147.90" y="666.10" font-size="5.90" fill="#4c4c4c" textLength="29.10" lengthAdjust="spacingAndGlyphs" >BATHROOMS</text>
<rect x="130.80" y="691.30" width="13.8" height="13.6" fill="#089247"/>
<text x="147.90" y="697.10" font-size="7.30" font-weight="bold" fill="#222" textLength="55.20" lengthAdjust="spacingAndGlyphs" >БЛАГОУСТРОЙСТВО</text>
<text x="147.90" y="704.00" font-size="5.90" fill="#4c4c4c" textLength="33.40" lengthAdjust="spacingAndGlyphs" >LANDSCAPING</text>
<rect x="248.30" y="653.30" width="13.8" height="13.6" fill="#8ccfd8"/>
<text x="265.80" y="659.20" font-size="7.30" font-weight="bold" fill="#222" textLength="22.30" lengthAdjust="spacingAndGlyphs" >КРАСКИ,</text>
<text x="265.80" y="666.20" font-size="7.30" font-weight="bold" fill="#222" textLength="37.30" lengthAdjust="spacingAndGlyphs" >ШТУКАТУРКА</text>
<text x="265.80" y="673.10" font-size="5.90" fill="#4c4c4c" textLength="42.50" lengthAdjust="spacingAndGlyphs" >PAINTS, PLASTERS</text>
<rect x="248.30" y="691.30" width="13.8" height="13.6" fill="#8cc96c"/>
<text x="265.80" y="697.10" font-size="7.30" font-weight="bold" fill="#222" textLength="63.00" lengthAdjust="spacingAndGlyphs" >ИНТЕРЬЕРНЫЕ ТКАНИ,</text>
<text x="265.80" y="704.10" font-size="7.30" font-weight="bold" fill="#222" textLength="57.10" lengthAdjust="spacingAndGlyphs" >КАРНИЗЫ, ЖАЛЮЗИ</text>
<text x="265.80" y="711.00" font-size="5.90" fill="#4c4c4c" textLength="41.50" lengthAdjust="spacingAndGlyphs" >INTERIOR TEXTILE,</text>
<text x="265.80" y="717.40" font-size="5.90" fill="#4c4c4c" textLength="60.90" lengthAdjust="spacingAndGlyphs" >CURTAIN RODS, SHUTTERS</text>
<rect x="373.30" y="653.30" width="13.8" height="13.6" fill="#2678c4"/>
<text x="390.40" y="659.20" font-size="7.30" font-weight="bold" fill="#222" textLength="60.00" lengthAdjust="spacingAndGlyphs" >ПАНЕЛИ, МОЛДИНГИ,</text>
<text x="390.40" y="666.20" font-size="7.30" font-weight="bold" fill="#222" textLength="27.30" lengthAdjust="spacingAndGlyphs" >ЛЕПНИНА</text>
<text x="390.40" y="673.10" font-size="5.90" fill="#4c4c4c" textLength="42.90" lengthAdjust="spacingAndGlyphs" >WALL AND CEILING</text>
<text x="390.40" y="679.50" font-size="5.90" fill="#4c4c4c" textLength="56.30" lengthAdjust="spacingAndGlyphs" >PANELLING &amp; MOULDING</text>
<rect x="373.30" y="691.30" width="13.8" height="13.6" fill="#c8202f"/>
<text x="390.40" y="697.10" font-size="7.30" font-weight="bold" fill="#222" textLength="25.60" lengthAdjust="spacingAndGlyphs" >КАМИНЫ</text>
<text x="390.40" y="704.00" font-size="5.90" fill="#4c4c4c" textLength="28.40" lengthAdjust="spacingAndGlyphs" >FIREPLACES</text>
<rect x="496.30" y="653.30" width="13.8" height="13.6" fill="#a964b1"/>
<text x="513.30" y="659.20" font-size="7.30" font-weight="bold" fill="#222" textLength="23.60" lengthAdjust="spacingAndGlyphs" >КАМЕНЬ</text>
<text x="513.30" y="666.10" font-size="5.90" fill="#4c4c4c" textLength="15.20" lengthAdjust="spacingAndGlyphs" >STONE</text>
<rect x="496.30" y="691.30" width="13.8" height="13.6" fill="#8c5a3b"/>
<text x="513.30" y="697.10" font-size="7.30" font-weight="bold" fill="#222" textLength="23.00" lengthAdjust="spacingAndGlyphs" >МЕБЕЛЬ</text>
<text x="513.30" y="704.00" font-size="5.90" fill="#4c4c4c" textLength="26.30" lengthAdjust="spacingAndGlyphs" >FURNITURE</text>
<rect x="610.40" y="653.30" width="13.8" height="13.6" fill="#b39199"/>
<text x="627.50" y="659.20" font-size="7.30" font-weight="bold" fill="#222" textLength="44.80" lengthAdjust="spacingAndGlyphs" >КЕРАМИЧЕСКАЯ</text>
<text x="627.50" y="666.20" font-size="7.30" font-weight="bold" fill="#222" textLength="22.50" lengthAdjust="spacingAndGlyphs" >ПЛИТКА</text>
<text x="627.50" y="673.10" font-size="5.90" fill="#4c4c4c" textLength="23.50" lengthAdjust="spacingAndGlyphs" >CERAMICS</text>
<rect x="610.40" y="691.30" width="13.8" height="13.6" fill="#fbb05b"/>
<text x="627.50" y="697.10" font-size="7.30" font-weight="bold" fill="#222" textLength="35.60" lengthAdjust="spacingAndGlyphs" >НАПОЛЬНЫЕ</text>
<text x="627.50" y="704.10" font-size="7.30" font-weight="bold" fill="#222" textLength="31.30" lengthAdjust="spacingAndGlyphs" >ПОКРЫТИЯ</text>
<text x="627.50" y="711.00" font-size="5.90" fill="#4c4c4c" textLength="23.10" lengthAdjust="spacingAndGlyphs" >FLOORING</text>
<rect x="718.30" y="653.30" width="13.8" height="13.6" fill="#fff16c"/>
<text x="735.00" y="659.20" font-size="7.30" font-weight="bold" fill="#222" textLength="26.50" lengthAdjust="spacingAndGlyphs" >СВЕТО- И</text>
<text x="735.00" y="666.20" font-size="7.30" font-weight="bold" fill="#222" textLength="51.00" lengthAdjust="spacingAndGlyphs" >ЭЛЕКТРОТЕХНИКА</text>
<text x="735.00" y="673.10" font-size="5.90" fill="#4c4c4c" textLength="26.50" lengthAdjust="spacingAndGlyphs" >LIGHTING &amp;</text>
<text x="735.00" y="679.50" font-size="5.90" fill="#4c4c4c" textLength="54.00" lengthAdjust="spacingAndGlyphs" >ELECTRICAL PRODUCTS</text>
<rect x="718.30" y="691.30" width="13.8" height="13.6" fill="#d67897"/>
<text x="735.00" y="697.10" font-size="7.30" font-weight="bold" fill="#222" textLength="15.40" lengthAdjust="spacingAndGlyphs" >ОБОИ</text>
<text x="735.00" y="704.00" font-size="5.90" fill="#4c4c4c" textLength="28.10" lengthAdjust="spacingAndGlyphs" >WALLPAPER</text>
<rect x="833.30" y="653.30" width="13.8" height="13.6" fill="#e5237b"/>
<text x="850.40" y="659.20" font-size="7.30" font-weight="bold" fill="#222" textLength="90.20" lengthAdjust="spacingAndGlyphs" >СТРОИТЕЛЬНОЕ ОБОРУДОВАНИЕ,</text>
<text x="850.40" y="666.20" font-size="7.30" font-weight="bold" fill="#222" textLength="94.40" lengthAdjust="spacingAndGlyphs" >ИНСТРУМЕНТ, БЛАГОУСТРОЙСТВО</text>
<text x="850.40" y="673.10" font-size="5.90" fill="#4c4c4c" textLength="50.60" lengthAdjust="spacingAndGlyphs" >BUILDING EQUIPMENT,</text>
<text x="850.40" y="679.50" font-size="5.90" fill="#4c4c4c" textLength="50.00" lengthAdjust="spacingAndGlyphs" >TOOLS, LANDSCAPING</text>
<rect x="833.30" y="691.30" width="13.8" height="13.6" fill="#ef535d"/>
<text x="850.40" y="697.10" font-size="7.30" font-weight="bold" fill="#222" textLength="82.50" lengthAdjust="spacingAndGlyphs" >СТРОИТЕЛЬНЫЕ МАТЕРИАЛЫ</text>
<text x="850.40" y="704.10" font-size="7.30" font-weight="bold" fill="#222" textLength="51.30" lengthAdjust="spacingAndGlyphs" >И ОБОРУДОВАНИЕ</text>
<text x="850.40" y="711.00" font-size="5.90" fill="#4c4c4c" textLength="49.60" lengthAdjust="spacingAndGlyphs" >BUILDING MATERIALS</text>
<text x="850.40" y="717.40" font-size="5.90" fill="#4c4c4c" textLength="31.90" lengthAdjust="spacingAndGlyphs" >&amp; EQUIPMENT</text>
<rect x="989.60" y="653.30" width="13.8" height="13.6" fill="#6dc6f1"/>
<text x="1006.70" y="659.20" font-size="7.30" font-weight="bold" fill="#222" textLength="27.70" lengthAdjust="spacingAndGlyphs" >ОКОННЫЕ</text>
<text x="1006.70" y="666.20" font-size="7.30" font-weight="bold" fill="#222" textLength="37.10" lengthAdjust="spacingAndGlyphs" >ТЕХНОЛОГИИ</text>
<text x="1006.70" y="673.10" font-size="5.90" fill="#4c4c4c" textLength="56.40" lengthAdjust="spacingAndGlyphs" >WINDOW TECHNOLOGIES</text>
<rect x="989.60" y="691.30" width="13.8" height="13.6" fill="#e8814b"/>
<text x="1006.70" y="697.10" font-size="7.30" font-weight="bold" fill="#222" textLength="18.70" lengthAdjust="spacingAndGlyphs" >ДВЕРИ</text>
<text x="1006.70" y="704.10" font-size="7.30" font-weight="bold" fill="#222" textLength="25.20" lengthAdjust="spacingAndGlyphs" >И ЗАМКИ</text>
<text x="1006.70" y="711.00" font-size="5.90" fill="#4c4c4c" textLength="37.10" lengthAdjust="spacingAndGlyphs" >DOORS &amp; LOCKS</text>
</g>
<g id="iconlegend">
<use href="#i-reg" transform="translate(130.90 749.50) scale(0.7750)"/>
<text x="153.10" y="757.70" font-size="8.10" font-weight="bold" fill="#3a3a3a" textLength="38.90" lengthAdjust="spacingAndGlyphs" >Регистрация</text>
<text x="153.10" y="764.60" font-size="5.90" fill="#5e5e5e" textLength="27.70" lengthAdjust="spacingAndGlyphs" >Registration</text>
<use href="#i-cloak" transform="translate(204.90 749.50) scale(0.7750)"/>
<text x="227.10" y="757.70" font-size="8.10" font-weight="bold" fill="#3a3a3a" textLength="28.10" lengthAdjust="spacingAndGlyphs" >Гардероб</text>
<text x="227.10" y="764.60" font-size="5.90" fill="#5e5e5e" textLength="24.60" lengthAdjust="spacingAndGlyphs" >Cloakroom</text>
<use href="#i-lug" transform="translate(268.40 749.50) scale(0.7750)"/>
<text x="290.60" y="757.70" font-size="8.10" font-weight="bold" fill="#3a3a3a" textLength="22.90" lengthAdjust="spacingAndGlyphs" >Камера</text>
<text x="290.60" y="764.70" font-size="8.10" font-weight="bold" fill="#3a3a3a" textLength="28.20" lengthAdjust="spacingAndGlyphs" >хранения</text>
<text x="290.60" y="771.60" font-size="5.90" fill="#5e5e5e" textLength="34.00" lengthAdjust="spacingAndGlyphs" >Luggage office</text>
<use href="#i-wc" transform="translate(337.60 749.50) scale(0.7750)"/>
<text x="359.60" y="757.70" font-size="8.10" font-weight="bold" fill="#3a3a3a" textLength="20.20" lengthAdjust="spacingAndGlyphs" >Туалет</text>
<text x="359.60" y="764.60" font-size="5.90" fill="#5e5e5e" textLength="7.70" lengthAdjust="spacingAndGlyphs" >WC</text>
<use href="#i-cafe" transform="translate(393.40 749.50) scale(0.7750)"/>
<text x="415.20" y="757.70" font-size="8.10" font-weight="bold" fill="#3a3a3a" textLength="15.60" lengthAdjust="spacingAndGlyphs" >Кафе</text>
<text x="415.20" y="764.60" font-size="5.90" fill="#5e5e5e" textLength="10.40" lengthAdjust="spacingAndGlyphs" >Cafe</text>
<use href="#i-atm" transform="translate(444.45 749.50) scale(0.7750)"/>
<text x="466.25" y="757.70" font-size="8.10" font-weight="bold" fill="#3a3a3a" textLength="31.25" lengthAdjust="spacingAndGlyphs" >Банкомат,</text>
<text x="466.25" y="764.70" font-size="8.10" font-weight="bold" fill="#3a3a3a" textLength="29.15" lengthAdjust="spacingAndGlyphs" >терминал</text>
<text x="466.25" y="771.60" font-size="5.90" fill="#5e5e5e" textLength="31.85" lengthAdjust="spacingAndGlyphs" >Cash machine</text>
<use href="#i-cash" transform="translate(512.80 749.50) scale(0.7750)"/>
<text x="534.60" y="757.70" font-size="8.10" font-weight="bold" fill="#3a3a3a" textLength="18.70" lengthAdjust="spacingAndGlyphs" >Касса,</text>
<text x="534.60" y="764.70" font-size="8.10" font-weight="bold" fill="#3a3a3a" textLength="54.60" lengthAdjust="spacingAndGlyphs" >Сервисный центр</text>
<text x="534.60" y="771.60" font-size="5.90" fill="#5e5e5e" textLength="43.10" lengthAdjust="spacingAndGlyphs" >Cash desk, Service</text>
<use href="#i-esc" transform="translate(602.20 749.50) scale(0.7750)"/>
<text x="624.00" y="757.70" font-size="8.10" font-weight="bold" fill="#3a3a3a" textLength="31.80" lengthAdjust="spacingAndGlyphs" >Эскалатор</text>
<text x="624.00" y="764.60" font-size="5.90" fill="#5e5e5e" textLength="18.70" lengthAdjust="spacingAndGlyphs" >Elevator</text>
<use href="#i-conf" transform="translate(669.20 749.50) scale(0.7750)"/>
<text x="691.25" y="757.70" font-size="8.10" font-weight="bold" fill="#3a3a3a" textLength="48.35" lengthAdjust="spacingAndGlyphs" >Конференц-зал,</text>
<text x="691.25" y="764.70" font-size="8.10" font-weight="bold" fill="#3a3a3a" textLength="41.05" lengthAdjust="spacingAndGlyphs" >контент-зона</text>
<text x="691.25" y="771.60" font-size="5.90" fill="#5e5e5e" textLength="36.45" lengthAdjust="spacingAndGlyphs" >Conference hall,</text>
<text x="691.25" y="778.00" font-size="5.90" fill="#5e5e5e" textLength="29.55" lengthAdjust="spacingAndGlyphs" >content zone</text>
<use href="#i-press" transform="translate(754.90 749.50) scale(0.7750)"/>
<text x="776.70" y="757.70" font-size="8.10" font-weight="bold" fill="#3a3a3a" textLength="36.40" lengthAdjust="spacingAndGlyphs" >Пресс-зона,</text>
<text x="776.70" y="764.70" font-size="8.10" font-weight="bold" fill="#3a3a3a" textLength="38.90" lengthAdjust="spacingAndGlyphs" >зона отдыха</text>
<text x="776.70" y="771.60" font-size="5.90" fill="#5e5e5e" textLength="48.30" lengthAdjust="spacingAndGlyphs" >Press zone, rest area</text>
<rect x="840.200" y="752.400" width="14.200" height="13.200" fill="#0f8049"/>
<g transform="translate(840.700 752.400) scale(1.1)"><use href="#runman"/></g>
<text x="859.50" y="757.70" font-size="8.10" font-weight="bold" fill="#3a3a3a" textLength="48.90" lengthAdjust="spacingAndGlyphs" >Эвакуационный</text>
<text x="859.50" y="764.70" font-size="8.10" font-weight="bold" fill="#3a3a3a" textLength="20.10" lengthAdjust="spacingAndGlyphs" >выход</text>
<text x="859.50" y="771.60" font-size="5.90" fill="#5e5e5e" textLength="35.80" lengthAdjust="spacingAndGlyphs" >Emergency Exit</text>
<circle cx="968.500" cy="759.600" r="8.900" fill="#fff" stroke="#c8202f" stroke-width="1.100"/>
<path d="M966.900 754.200h3.200v3.800h3.800v3.200h-3.800v3.800h-3.200v-3.800h-3.800v-3.200h3.800z" fill="#d81e2c"/>
<text x="981.00" y="756.90" font-size="8.10" font-weight="bold" fill="#3a3a3a" textLength="75.20" lengthAdjust="spacingAndGlyphs" >Бригада скорой помощи</text>
<text x="981.00" y="763.60" font-size="5.90" fill="#5e5e5e" textLength="25.70" lengthAdjust="spacingAndGlyphs" >Emergency</text>
<text x="981.00" y="772.20" font-size="8.10" font-weight="bold" fill="#3a3a3a" textLength="57.90" lengthAdjust="spacingAndGlyphs" >(Уличная парковка</text>
<text x="981.00" y="779.40" font-size="8.10" font-weight="bold" fill="#3a3a3a" textLength="77.50" lengthAdjust="spacingAndGlyphs" >напротив павильона 1, 2)</text>
<text x="981.00" y="786.80" font-size="5.90" fill="#5e5e5e" textLength="88.30" lengthAdjust="spacingAndGlyphs" >(Street parking in front of pavilion 1, 2)</text>
</g>
</svg></body></html>
